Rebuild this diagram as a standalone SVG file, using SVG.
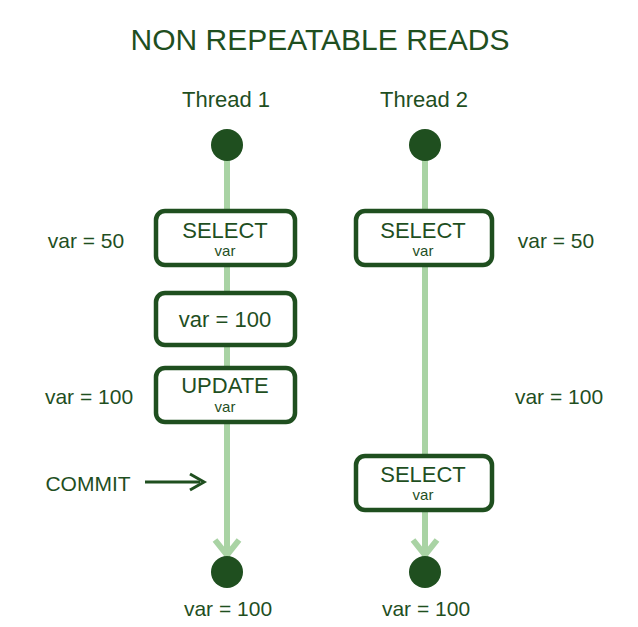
<svg xmlns="http://www.w3.org/2000/svg" width="638" height="627" viewBox="0 0 638 627">
<style>
text{font-family:"Liberation Sans",sans-serif;fill:#1f4f1f;text-anchor:middle}
.t{font-size:30px}
.h{font-size:22px}
.b{font-size:22px}
.s{font-size:15px}
.l{font-size:21px}
.box{fill:#fff;stroke:#1f4f1f;stroke-width:4.5}
.ln{stroke:#a9d3a4;stroke-width:6;fill:none}
.dot{fill:#1f4f1f}
</style>
<rect width="638" height="627" fill="#fff"/>
<text class="t" x="320" y="50">NON REPEATABLE READS</text>
<text class="h" x="226" y="107">Thread 1</text>
<text class="h" x="424" y="107">Thread 2</text>
<g id="connectors">
<line class="ln" x1="227" y1="150" x2="227" y2="560"/>
<polyline class="ln" points="215,540 227,555 239,540"/>
<line class="ln" x1="425" y1="150" x2="425" y2="560"/>
<polyline class="ln" points="413,540 425,555 437,540"/>
<line x1="145" y1="482" x2="200" y2="482" stroke="#1f4f1f" stroke-width="3"/>
<polyline points="190,474 204,482 190,490" fill="none" stroke="#1f4f1f" stroke-width="3"/>
</g>
<g id="t1start"><circle class="dot" cx="227" cy="145" r="16"/></g>
<g id="t1end"><circle class="dot" cx="227" cy="572" r="16"/></g>
<g id="t2start"><circle class="dot" cx="425" cy="145" r="16"/></g>
<g id="t2end"><circle class="dot" cx="425" cy="572" r="16"/></g>
<g id="t1select"><rect class="box" x="156" y="211" width="139" height="54" rx="9"/><text class="b" x="225" y="238">SELECT</text><text class="s" x="225" y="256">var</text></g>
<g id="t1set"><rect class="box" x="156" y="293" width="139" height="52" rx="9"/><text class="b" x="225" y="327">var = 100</text></g>
<g id="t1update"><rect class="box" x="156" y="368" width="139" height="54" rx="9"/><text class="b" x="225" y="393">UPDATE</text><text class="s" x="225" y="412">var</text></g>
<g id="t2select1"><rect class="box" x="356" y="211" width="136" height="54" rx="9"/><text class="b" x="423" y="238">SELECT</text><text class="s" x="423" y="256">var</text></g>
<g id="t2select2"><rect class="box" x="356" y="456" width="136" height="54" rx="9"/><text class="b" x="423" y="482">SELECT</text><text class="s" x="423" y="500">var</text></g>
<text class="l" x="86" y="248">var = 50</text>
<text class="l" x="556" y="248">var = 50</text>
<text class="l" x="89" y="404">var = 100</text>
<text class="l" x="559" y="404">var = 100</text>
<text class="l" x="88" y="491">COMMIT</text>
<text class="l" x="228" y="616">var = 100</text>
<text class="l" x="426" y="616">var = 100</text>
</svg>
